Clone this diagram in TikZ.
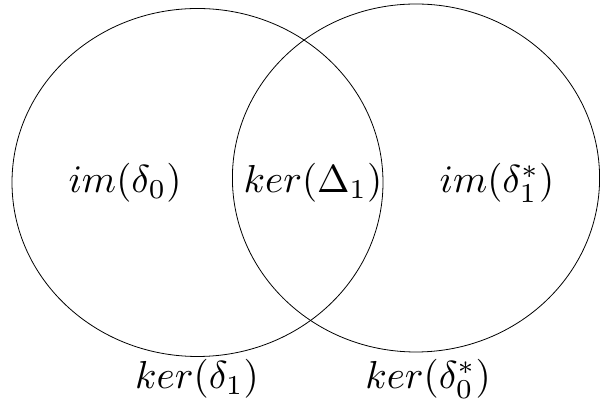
\documentclass[tikz,border=0pt]{standalone}
\begin{document}
\begin{tikzpicture}[x=1pt,y=1pt,
  setlabel/.style={inner sep=0pt, scale=3.9},
  setline/.style={line width=0.8pt, draw=black}]
\useasboundingbox (0,0) rectangle (600,403);
\draw[setline] (197.5,220.5) ellipse [x radius=185.5, y radius=174];
\draw[setline] (416,225) ellipse [x radius=183.6, y radius=174];
\node[setlabel] (imd0) at (125,220) {$im(\delta_0)$};
\node[setlabel] (kerD1) at (313,220) {$ker(\Delta_1)$};
\node[setlabel] (imd1s) at (497,220) {$im(\delta_1^*)$};
\node[setlabel] (kerd1) at (197,24) {$ker(\delta_1)$};
\node[setlabel] (kerd0s) at (428,24) {$ker(\delta_0^*)$};
\end{tikzpicture}
\end{document}
